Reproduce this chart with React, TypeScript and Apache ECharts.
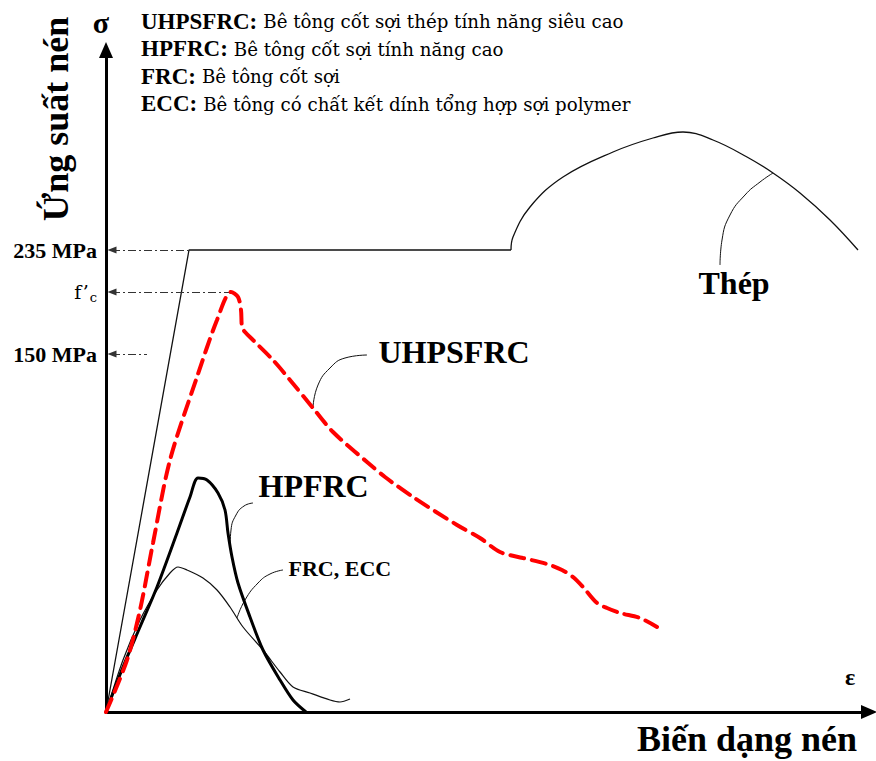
import React, { useEffect, useRef } from 'react';
import * as echarts from 'echarts';

// Schematic compressive stress–strain diagram (relative units on both axes)
const STRAIN_MAX = 763;
const STRESS_MAX = 662;

// Stress levels marked on the vertical axis
const yTickValues = [358, 420, 462];
const yTickLabels = ['150 MPa', "f'c", '235 MPa'];

// Steel: elastic branch + yield plateau, then strain hardening
const steelElasticPlateau: number[][] = [[0, 0], [83, 462], [405, 462]];
const steelHardening: number[][] = [
  [405, 462], [407, 475], [424, 505], [457, 535], [507, 560], [547, 574], [577, 580],
  [607, 572], [641, 555], [667, 539], [694, 519], [724, 492], [752, 462],
];

// Ultra-high performance steel fibre reinforced concrete
const uhpsfrc: number[][] = [
  [0, 0], [21, 52], [34, 102], [47, 169], [64, 252], [91, 335], [111, 392], [125, 420],
  [132, 415], [135, 402], [136, 385], [139, 380], [147, 372], [167, 352], [184, 332],
  [207, 304], [227, 280], [261, 250], [279, 235], [307, 215], [351, 187], [374, 174],
  [394, 160], [417, 154], [441, 148], [456, 142], [467, 135], [477, 125], [491, 109],
  [501, 104], [514, 99], [534, 94], [551, 85],
];

// High performance fibre reinforced concrete
const hpfrc: number[][] = [
  [0, 0], [17, 45], [34, 85], [51, 125], [71, 179], [84, 215], [92, 234], [101, 232],
  [112, 219], [119, 202], [122, 179], [126, 155], [132, 129], [144, 95], [157, 62],
  [174, 32], [187, 12], [200, 0],
];

// Fibre reinforced concrete / engineered cementitious composite
const frcEcc: number[][] = [
  [0, 0], [17, 52], [34, 92], [51, 122], [64, 139], [72, 145], [81, 142], [97, 134],
  [111, 122], [124, 105], [137, 85], [157, 62], [174, 40], [187, 25], [204, 19],
  [224, 12], [234, 10], [244, 13],
];

// Leader curves tying each name to its curve
const leaderSteel: number[][] = [[614, 447], [616, 472], [624, 497], [639, 517], [654, 530], [667, 539]];
const leaderUhpsfrc: number[][] = [[207, 305], [212, 327], [224, 344], [239, 354], [261, 357]];
const leaderHpfrc: number[][] = [[124, 164], [125, 182], [130, 197], [138, 206], [147, 209]];
const leaderFrc: number[][] = [[131, 94], [139, 112], [152, 129], [164, 138], [177, 142]];

const curveNames = ['Thép', 'UHPSFRC', 'HPFRC', 'FRC, ECC'];

const legendTerms = ['UHPSFRC', 'HPFRC', 'FRC', 'ECC'];
const legendDescriptions = [
  'Bê tông cốt sợi thép tính năng siêu cao',
  'Bê tông cốt sợi tính năng cao',
  'Bê tông cốt sợi',
  'Bê tông có chất kết dính tổng hợp sợi polymer',
];

// Bold serif face for headings; regular-weight serif text uses DejaVu Serif
const SERIF = 'Liberation Serif, Times New Roman, Times, serif';
const SERIF_REGULAR = 'DejaVu Serif, serif';

function measure(text: string, font: string): number {
  const ctx = document.createElement('canvas').getContext('2d');
  if (!ctx) return text.length * 12;
  ctx.font = font;
  return ctx.measureText(text).width;
}

function buildOption(): echarts.EChartsOption {
  const yieldLevel = yTickValues[2];
  const fcLevel = yTickValues[1];
  const lowLevel = yTickValues[0];
  const yieldStrain = steelElasticPlateau[1][0];
  const peak = uhpsfrc.reduce((a, b) => (b[1] > a[1] ? b : a));

  const axisLine = {
    show: true,
    onZero: false,
    symbol: ['none', 'triangle'],
    symbolSize: [14, 16],
    lineStyle: { color: '#000', width: 3 },
  };

  const guideStart = 6;
  const guide = (x0: number, x1: number, y: number) => [
    { coord: [x0, y], symbol: 'triangle', symbolSize: [7, 9] },
    { coord: [x1, y], symbol: 'none' },
  ];

  const leader = (data: number[][]) => ({
    type: 'line' as const,
    data,
    smooth: 0.5,
    symbol: 'none',
    silent: true,
    lineStyle: { color: '#111', width: 1 },
    z: 3,
  });

  const labelAnchors = [[592, 429], [272, 360], [152, 226], [182, 144]];
  const labelSizes = [32, 32, 32, 22];

  // Definitions block: bold term followed by a regular-weight description
  const legendX = 141;
  const legendY0 = 21;
  const legendStep = 27.5;
  const termSize = 23;
  const descSize = 18.2;
  const legendGraphics: any[] = [];
  legendTerms.forEach((term, i) => {
    const termText = `${term}:`;
    const w = measure(termText, `bold ${termSize}px ${SERIF}`);
    const y = legendY0 + i * legendStep;
    legendGraphics.push(
      {
        type: 'text',
        x: legendX,
        y,
        style: {
          text: termText,
          fontFamily: SERIF,
          fontSize: termSize,
          fontWeight: 'bold',
          fill: '#000',
          verticalAlign: 'middle',
        },
      },
      {
        type: 'text',
        x: legendX + w + 6,
        y: y + 0.5,
        style: {
          text: legendDescriptions[i],
          fontFamily: SERIF_REGULAR,
          fontSize: descSize,
          fontWeight: 'normal',
          fill: '#000',
          verticalAlign: 'middle',
        },
      },
    );
  });

  return {
    animation: false,
    backgroundColor: '#ffffff',
    grid: { left: 106, right: 7, top: 50, bottom: 49 },
    xAxis: {
      type: 'value',
      min: 0,
      max: STRAIN_MAX,
      axisLine,
      axisTick: { show: false },
      axisLabel: { show: false },
      splitLine: { show: false },
    },
    yAxis: {
      type: 'value',
      min: 0,
      max: STRESS_MAX,
      axisLine,
      axisTick: { show: false },
      splitLine: { show: false },
      axisLabel: {
        show: true,
        customValues: yTickValues,
        margin: 9,
        fontFamily: SERIF,
        fontSize: 22,
        fontWeight: 'bold',
        color: '#000',
        formatter: (v: number) => {
          const label = yTickLabels[yTickValues.indexOf(v)] ?? '';
          return label === "f'c" ? '{f|f’}{c|c}' : label;
        },
        rich: {
          f: { fontFamily: SERIF_REGULAR, fontSize: 19, fontWeight: 'normal', color: '#000' },
          c: { fontFamily: SERIF_REGULAR, fontSize: 13, fontWeight: 'normal', color: '#000', padding: [10, 0, 0, 1] },
        },
      },
    } as any,
    series: [
      {
        type: 'line',
        name: 'guides',
        data: [],
        silent: true,
        markLine: {
          silent: true,
          label: { show: false },
          lineStyle: { color: '#333', width: 1, type: [8, 3, 2, 3] },
          data: [
            guide(guideStart, yieldStrain, yieldLevel),
            guide(guideStart, peak[0], fcLevel),
            guide(guideStart, 41, lowLevel),
          ] as any,
        },
      },
      {
        type: 'line',
        name: 'Thép',
        data: steelElasticPlateau,
        symbol: 'none',
        lineStyle: { color: '#111', width: 1.3 },
        z: 3,
      },
      {
        type: 'line',
        name: 'Thép',
        data: steelHardening,
        smooth: 0.4,
        symbol: 'none',
        lineStyle: { color: '#111', width: 1.3 },
        z: 3,
      },
      {
        type: 'line',
        name: 'FRC, ECC',
        data: frcEcc,
        smooth: 0.3,
        symbol: 'none',
        lineStyle: { color: '#111', width: 1.2 },
        z: 3,
      },
      {
        type: 'line',
        name: 'HPFRC',
        data: hpfrc,
        smooth: 0.3,
        symbol: 'none',
        lineStyle: { color: '#000', width: 3 },
        z: 4,
      },
      {
        type: 'line',
        name: 'UHPSFRC',
        data: uhpsfrc,
        smooth: 0.3,
        symbol: 'none',
        lineStyle: { color: '#ff0000', width: 4, type: [14, 8], cap: 'round' },
        z: 5,
      },
      leader(leaderSteel),
      leader(leaderUhpsfrc),
      leader(leaderHpfrc),
      leader(leaderFrc),
      {
        type: 'scatter',
        name: 'names',
        silent: true,
        symbolSize: 1,
        itemStyle: { color: 'rgba(0,0,0,0)', opacity: 1 },
        data: curveNames.map((n, i) => ({
          name: n,
          value: labelAnchors[i],
          label: { fontSize: labelSizes[i] },
        })),
        label: {
          show: true,
          position: 'right',
          distance: 0,
          formatter: '{b}',
          fontFamily: SERIF,
          fontWeight: 'bold',
          color: '#000',
          opacity: 1,
        },
        z: 6,
      },
    ],
    graphic: [
      ...legendGraphics,
      {
        type: 'text',
        x: 56,
        y: 119,
        rotation: Math.PI / 2,
        style: {
          text: 'Ứng suất nén',
          fontFamily: SERIF,
          fontSize: 36,
          fontWeight: 'bold',
          fill: '#000',
          align: 'center',
          verticalAlign: 'middle',
        },
      },
      {
        type: 'text',
        x: 747,
        y: 739,
        style: {
          text: 'Biến dạng nén',
          fontFamily: SERIF,
          fontSize: 36,
          fontWeight: 'bold',
          fill: '#000',
          align: 'center',
          verticalAlign: 'middle',
        },
      },
      {
        type: 'text',
        x: 101,
        y: 22,
        style: {
          text: 'σ',
          fontFamily: SERIF,
          fontSize: 30,
          fontWeight: 'bold',
          fill: '#000',
          align: 'center',
          verticalAlign: 'middle',
        },
      },
      {
        type: 'text',
        x: 850,
        y: 677,
        style: {
          text: 'ε',
          fontFamily: SERIF,
          fontSize: 24,
          fontWeight: 'bold',
          fill: '#000',
          align: 'center',
          verticalAlign: 'middle',
        },
      },
    ],
  };
}

export default function App() {
  const ref = useRef<HTMLDivElement>(null);

  useEffect(() => {
    if (!ref.current) return;
    const chart = echarts.init(ref.current, undefined, { renderer: 'svg' });
    chart.setOption(buildOption());
    return () => chart.dispose();
  }, []);

  return (
    <div
      ref={ref}
      style={{ position: 'fixed', left: 0, top: 0, width: 876, height: 761, background: '#fff' }}
    />
  );
}
